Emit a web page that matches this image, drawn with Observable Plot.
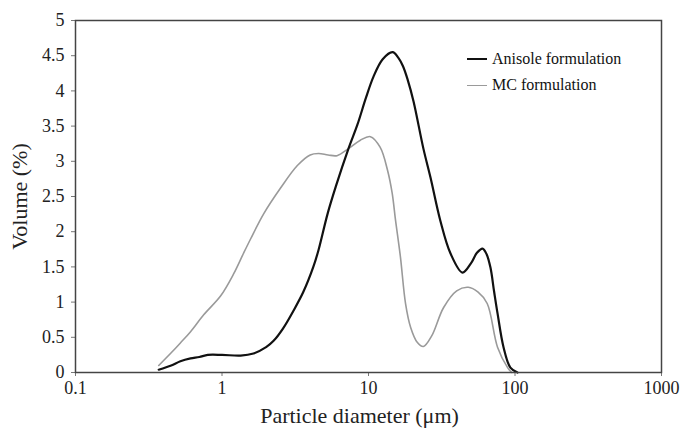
<!DOCTYPE html>
<html>
<head>
<meta charset="utf-8">
<script src="https://cdn.jsdelivr.net/npm/d3@7"></script>
<script src="https://cdn.jsdelivr.net/npm/@observablehq/plot@0.6"></script>
<style>
  html, body { margin: 0; padding: 0; background: #fff; }
  #wrap { position: relative; width: 681px; height: 429px; }
  #wrap svg text { font-family: "Liberation Serif", "Times New Roman", serif !important; fill: #222; }
  #wrap svg g[aria-label$="tick label"] { font-size: 18px !important; }
  #wrap svg g[aria-label$="axis label"] { font-size: 22px !important; }
  #legend { position: absolute; left: 467px; top: 46px; font-family: "Liberation Serif", "Times New Roman", serif; font-size: 16px; color: #111; }
  .row { display: flex; align-items: center; height: 26px; }
  .sw { width: 20px; height: 0; margin-right: 5px; }
</style>
</head>
<body>
<div id="wrap"></div>
<script>
const seriesNames = ["Anisole formulation", "MC formulation"];
const seriesColors = ["#111111", "#9a9a9a"];

const anisoleX = [0.37,0.45,0.52,0.61,0.70,0.80,1.0,1.34,1.64,2.0,2.25,2.6,3.08,3.6,4.2,4.56,5.25,6.0,7.3,8.4,9.6,10.8,12.5,14.6,16.0,17.2,18.5,20.3,23.7,26.5,30.9,36.3,43.8,50,55,60,64,68,72,76,83.5,93,104];
const anisoleY = [0.04,0.10,0.16,0.20,0.22,0.25,0.25,0.24,0.27,0.36,0.45,0.62,0.88,1.15,1.5,1.74,2.25,2.65,3.18,3.52,3.9,4.2,4.45,4.55,4.47,4.35,4.16,3.85,3.18,2.77,2.16,1.69,1.42,1.55,1.70,1.76,1.68,1.49,1.15,0.84,0.36,0.07,0.0];

const mcX = [0.37,0.45,0.52,0.61,0.75,0.98,1.2,1.4,1.57,1.92,2.51,3.27,4.0,4.56,5.3,6.1,7.3,8.8,10.3,12,13.5,14.5,15.3,16.5,17.9,19.4,21.5,23.7,27,32.5,40,48,56,64.6,76,89,95];
const mcY = [0.10,0.28,0.42,0.58,0.82,1.09,1.40,1.69,1.9,2.25,2.62,2.94,3.09,3.11,3.09,3.08,3.18,3.30,3.35,3.20,2.87,2.55,2.16,1.65,0.98,0.64,0.43,0.37,0.52,0.92,1.16,1.21,1.14,0.98,0.36,0.07,0.0];

const xTicks = [0.1, 1, 10, 100, 1000];
const yTicks = [0, 0.5, 1, 1.5, 2, 2.5, 3, 3.5, 4, 4.5, 5];

const anisole = anisoleX.map((x, i) => ({x, y: anisoleY[i]}));
const mc = mcX.map((x, i) => ({x, y: mcY[i]}));

const font = '"Liberation Serif", "Times New Roman", serif';

const chart = Plot.plot({
  width: 681,
  height: 429,
  marginLeft: 75,
  marginRight: 20,
  marginTop: 20,
  marginBottom: 57,
  style: { fontFamily: font, fontSize: "18px", color: "#222", background: "#fff" },
  x: { type: "log", domain: [0.1, 1000] },
  y: { domain: [0, 5] },
  marks: [
    Plot.axisX({ ticks: xTicks, tickFormat: d => String(d), tickSize: 4, tickPadding: 5, stroke: "#777",
      label: "Particle diameter (μm)", labelAnchor: "center", labelArrow: "none", labelOffset: 50 }),
    Plot.axisY({ ticks: yTicks, tickFormat: d => String(d), tickSize: 4, tickPadding: 7, stroke: "#777",
      label: "Volume (%)", labelAnchor: "center", labelArrow: "none", labelOffset: 64 }),
    Plot.line(mc, { x: "x", y: "y", stroke: seriesColors[1], strokeWidth: 1.6, curve: "catmull-rom" }),
    Plot.line(anisole, { x: "x", y: "y", stroke: seriesColors[0], strokeWidth: 2.2, curve: "catmull-rom" }),
    Plot.frame({ stroke: "#444", strokeWidth: 1.5 })
  ]
});
const xl = chart.querySelector('g[aria-label="x-axis label"]');
if (xl) {
  const tr = xl.getAttribute("transform") || "";
  xl.setAttribute("transform", ("translate(-9,0) " + tr).trim());
}
document.getElementById("wrap").appendChild(chart);

const legend = document.createElement("div");
legend.id = "legend";
seriesNames.forEach((name, i) => {
  const row = document.createElement("div");
  row.className = "row";
  const sw = document.createElement("div");
  sw.className = "sw";
  sw.style.borderTop = `${i === 0 ? 2.2 : 1.6}px solid ${seriesColors[i]}`;
  const t = document.createElement("span");
  t.textContent = name;
  row.appendChild(sw); row.appendChild(t);
  legend.appendChild(row);
});
document.getElementById("wrap").appendChild(legend);
</script>
</body>
</html>
